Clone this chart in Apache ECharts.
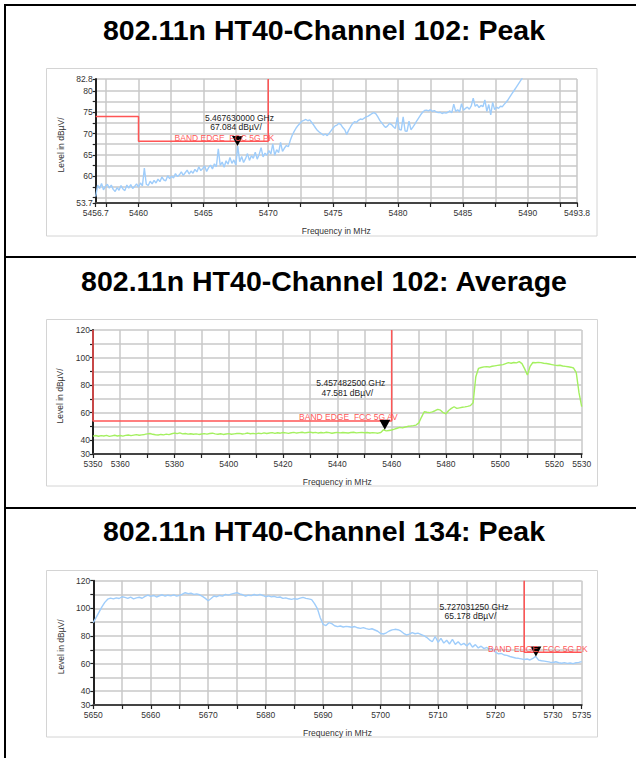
<!DOCTYPE html>
<html>
<head>
<meta charset="utf-8">
<script src="https://cdn.jsdelivr.net/npm/echarts@6/dist/echarts.min.js"></script>
<style>
html,body{margin:0;padding:0;background:#fff;}
#c{width:636px;height:758px;}
</style>
</head>
<body>
<div id="c"></div>
<script>
// ---- Channel 102, peak detector: sweep 5456.7 MHz, 0.15 MHz per point ----
const ch102PkStartMHz = 5456.7;
const ch102PkStepMHz = 0.15;
const ch102PkLevels = [
  55.2, 57.9, 57.1, 58.3, 56.8, 57.6, 58.1, 57.2, 57.9, 56.9,
  56.4, 57.3, 56.7, 57.8, 57.0, 56.6, 57.9, 57.2, 58.0, 57.1,
  57.6, 58.2, 57.4, 58.4, 57.7, 61.9, 58.1, 57.8, 58.8, 58.2,
  59.0, 58.4, 59.3, 58.7, 59.8, 59.1, 58.9, 60.1, 59.4, 60.0,
  59.6, 60.6, 59.9, 60.3, 61.0, 60.2, 60.8, 61.4, 60.5, 61.2,
  60.7, 61.6, 61.0, 62.2, 61.3, 61.8, 62.4, 61.1, 62.0, 62.6,
  61.7, 62.9, 62.2, 66.4, 62.5, 63.3, 62.1, 63.6, 62.8, 64.4,
  63.0, 63.8, 62.6, 67.08, 63.4, 64.6, 63.2, 64.1, 65.3, 63.7,
  64.8, 64.2, 65.6, 64.0, 65.1, 66.7, 64.5, 65.4, 64.9, 66.0,
  65.2, 67.6, 64.9, 66.2, 65.5, 67.9, 65.8, 66.6, 67.2, 66.9,
  68.4, 69.6, 70.5, 71.3, 71.9, 72.4, 72.9, 73.1, 73.3, 73.0,
  73.2, 72.6, 72.0, 71.3, 70.7, 70.3, 70.0, 69.6, 69.9, 69.5,
  70.1, 70.7, 71.3, 71.8, 72.0, 72.4, 72.1, 71.4, 70.9, 69.8,
  70.8, 71.6, 72.3, 72.8, 72.6, 73.1, 73.4, 73.3, 73.6, 73.9,
  74.1, 74.4, 74.7, 74.9, 74.6, 73.9, 73.1, 72.5, 71.9, 71.4,
  71.8, 72.4, 72.1, 71.6, 71.2, 73.8, 71.0, 70.8, 73.9, 70.6,
  70.5, 72.9, 70.9, 71.5, 72.2, 73.0, 73.7, 74.4, 75.0, 75.4,
  75.5, 75.3, 75.6, 75.2, 75.4, 75.1, 74.9, 75.0, 74.7, 74.9,
  74.8, 75.0, 75.3, 74.9, 76.9, 75.2, 75.6, 75.1, 77.0, 75.5,
  75.9, 76.2, 75.7, 76.5, 78.3, 76.4, 76.8, 76.1, 76.6, 76.3,
  77.9, 75.2, 76.8, 74.4, 77.3, 75.6, 76.2, 75.9, 76.4, 76.3,
  76.9, 77.4, 78.0, 78.7, 79.4, 80.1, 80.8, 81.5, 82.2, 82.9,
  83.6
];
const ch102PkLimit = [[5456.7, 74], [5460, 74], [5460, 68.2], [5470, 68.2], [5470, 82.8]];
const ch102PkMarker = [5467.63, 67.084];
const ch102PkXTicks = [5456.7, 5457.5, 5460, 5462.5, 5465, 5467.5, 5470, 5472.5, 5475, 5477.5,
  5480, 5482.5, 5485, 5487.5, 5490, 5492.5, 5493.8];
const ch102PkXLabels = [5456.7, 5460, 5465, 5470, 5475, 5480, 5485, 5490, 5493.8];
const ch102PkYTicks = [53.7, 55, 57.5, 60, 62.5, 65, 67.5, 70, 72.5, 75, 77.5, 80, 82.8];
const ch102PkYLabels = [53.7, 60, 65, 70, 75, 80, 82.8];

// ---- Channel 102, average detector: sweep 5350 MHz, 1 MHz per point ----
const ch102AvStartMHz = 5350;
const ch102AvStepMHz = 1;
const ch102AvLevels = [
  43.0, 43.4, 42.9, 43.3, 43.1, 43.5, 42.8, 43.2, 43.6, 43.1,
  43.4, 43.0, 43.5, 43.8, 43.3, 43.7, 44.1, 43.6, 43.9, 44.2,
  44.6, 44.9, 44.3, 44.0, 43.8, 44.2, 43.9, 44.4, 44.1, 44.7,
  45.2, 44.8, 45.3, 44.6, 44.9, 44.4, 44.7, 44.3, 44.6, 44.2,
  44.5, 44.8, 44.4, 44.9, 45.1, 44.6, 44.3, 44.7, 44.2, 44.5,
  44.8, 44.3, 44.6, 44.9, 45.0, 44.5, 44.8, 45.2, 44.7, 45.0,
  44.6, 45.1, 44.8, 45.3, 44.9, 45.2, 45.5, 45.0, 45.4, 45.1,
  45.6, 45.3, 45.0, 45.4, 45.7, 45.2, 45.5, 45.8, 45.3, 45.6,
  45.9, 45.4, 45.7, 45.2, 45.6, 45.3, 45.8, 45.5, 45.1, 45.4,
  45.7, 45.3, 45.6, 45.4, 45.2, 45.6, 45.8, 45.3, 45.5, 45.7,
  45.4, 45.6, 45.2, 45.5, 45.3, 45.1, 45.6, 47.6, 46.8, 47.1,
  47.4, 48.0, 48.7, 49.3, 49.0, 49.6, 50.1, 50.3, 50.6, 51.0,
  52.6, 56.8, 60.7, 60.3, 60.0, 60.6, 61.4, 62.4, 61.8, 60.0,
  59.2, 61.6, 63.1, 64.3, 63.1, 63.5, 63.9, 64.2, 64.6, 65.1,
  67.2, 86.1, 92.2, 92.8, 93.2, 93.4, 93.1, 93.7, 94.0, 94.3,
  94.6, 94.9, 95.6, 96.3, 95.9, 96.4, 96.1, 97.0, 95.6, 91.8,
  87.3, 93.6, 96.4, 96.2, 96.5, 96.3, 95.9, 95.7, 95.3, 94.9,
  94.5, 94.2, 94.4, 93.9, 93.6, 93.3, 93.0, 92.4, 89.0, 74.5,
  64.3
];
const ch102AvLimit = [[5350, 120], [5350, 54], [5460, 54], [5460, 120]];
const ch102AvMarker = [5457.4825, 47.581];
const ch102AvXTicks = [5350, 5360, 5370, 5380, 5390, 5400, 5410, 5420, 5430, 5440,
  5450, 5460, 5470, 5480, 5490, 5500, 5510, 5520, 5530];
const ch102AvXLabels = [5350, 5360, 5380, 5400, 5420, 5440, 5460, 5480, 5500, 5520, 5530];
const levelTicks = [30, 40, 50, 60, 70, 80, 90, 100, 110, 120];
const levelLabels = [30, 40, 60, 80, 100, 120];

// ---- Channel 134, peak detector: sweep 5650 MHz, 0.5 MHz per point ----
const ch134PkStartMHz = 5650;
const ch134PkStepMHz = 0.5;
const ch134PkLevels = [
  89.6, 93.4, 97.2, 101.0, 104.3, 106.6, 107.4, 106.8, 107.6, 107.1,
  108.4, 107.9, 107.2, 108.1, 106.9, 107.6, 108.0, 107.3, 108.6, 109.6,
  108.7, 109.3, 108.2, 109.1, 109.8, 108.9, 109.5, 109.0, 109.7, 108.8,
  109.4, 110.2, 111.3, 110.6, 110.9, 110.1, 110.5, 109.8, 108.6, 107.2,
  105.5, 107.1, 108.9, 108.4, 109.3, 108.8, 110.1, 109.6, 110.3, 110.8,
  111.3, 110.4, 109.8, 108.9, 109.5, 109.2, 110.0, 109.4, 110.1, 109.3,
  108.4, 109.0, 108.3, 108.7, 107.9, 108.2, 107.2, 107.6, 106.9, 106.5,
  107.0, 106.6, 107.4, 107.9, 107.2, 106.8, 106.3, 103.4, 99.8, 93.2,
  88.4, 87.5, 89.6, 88.9, 87.4, 86.7, 87.2, 86.5, 86.9, 86.7,
  86.3, 86.8, 85.9, 85.5, 86.0, 85.3, 84.8, 85.2, 84.3, 83.4,
  81.8, 81.4, 82.3, 83.6, 84.4, 84.8, 84.5, 83.6, 81.9, 80.7,
  81.3, 82.4, 81.6, 82.0, 81.2, 80.3, 79.0, 77.2, 75.8, 79.6,
  75.4, 78.3, 74.8, 76.9, 74.2, 77.5, 73.9, 75.8, 73.5, 74.6,
  72.8, 74.9, 71.9, 73.7, 71.3, 72.6, 70.8, 71.7, 69.9, 70.9,
  68.2, 67.1, 67.3, 66.2, 65.9, 65.1, 64.6, 64.0, 63.8, 63.4,
  62.9, 63.3, 62.6, 63.7, 65.18, 62.5, 62.0, 61.8, 61.4, 61.0,
  60.8, 61.3, 60.6, 60.2, 60.7, 60.1, 60.4, 60.0, 60.6, 60.9,
  61.4
];
const ch134PkLimit = [[5725, 120], [5725, 68.2], [5735, 68.2]];
const ch134PkMarker = [5727.03125, 65.178];
const ch134PkXTicks = [5650, 5655, 5660, 5665, 5670, 5675, 5680, 5685, 5690, 5695, 5700,
  5705, 5710, 5715, 5720, 5725, 5730, 5735];
const ch134PkXLabels = [5650, 5660, 5670, 5680, 5690, 5700, 5710, 5720, 5730, 5735];

const panelTitles = [
  '802.11n HT40-Channel 102: Peak',
  '802.11n HT40-Channel 102: Average',
  '802.11n HT40-Channel 134: Peak'
];
const limitNames = ['BAND EDGE  FCC 5G PK', 'BAND EDGE  FCC 5G AV', 'BAND EDGE  FCC 5G PK'];

// ---- page layout (pixels) ----
const FONT = '"Liberation Sans", Arial, Helvetica, sans-serif';
const panels = [
  {
    titleY: 30, box: [46.5, 68.5, 550.5, 167.5],
    grid: {left: 95.7, top: 79, width: 481.3, height: 124},
    x: {min: 5456.7, max: 5493.8, ticks: ch102PkXTicks, labels: ch102PkXLabels},
    y: {min: 53.7, max: 82.8, ticks: ch102PkYTicks, labels: ch102PkYLabels},
    trace: {start: ch102PkStartMHz, step: ch102PkStepMHz, levels: ch102PkLevels, color: '#9fcdfb'},
    limit: ch102PkLimit, limitLabelAt: [5470, 68.2],
    marker: ch102PkMarker, markerTextOffset: [2, -18.5]
  },
  {
    titleY: 281, box: [46.5, 319.5, 551, 166.5],
    grid: {left: 93, top: 330, width: 488.7, height: 124},
    x: {min: 5350, max: 5530, ticks: ch102AvXTicks, labels: ch102AvXLabels},
    y: {min: 30, max: 120, ticks: levelTicks, labels: levelLabels},
    trace: {start: ch102AvStartMHz, step: ch102AvStepMHz, levels: ch102AvLevels, color: '#a4f060'},
    limit: ch102AvLimit, limitLabelAt: [5460, 54],
    marker: ch102AvMarker, markerTextOffset: [-34, -37]
  },
  {
    titleY: 531, box: [46.5, 570.5, 551, 166.5],
    grid: {left: 93.3, top: 580.7, width: 488.4, height: 124.3},
    x: {min: 5650, max: 5735, ticks: ch134PkXTicks, labels: ch134PkXLabels},
    y: {min: 30, max: 120, ticks: levelTicks, labels: levelLabels},
    trace: {start: ch134PkStartMHz, step: ch134PkStepMHz, levels: ch134PkLevels, color: '#9fcdfb'},
    limit: ch134PkLimit, limitLabelAt: [5735, 68.2],
    marker: ch134PkMarker, markerTextOffset: [-62, -40]
  }
];

const smallText = {fontFamily: FONT, fontSize: 8.5, color: '#333'};
const plain = v => String(v);

const grids = [], xAxes = [], yAxes = [], series = [], graphics = [];

// outer frame and panel separators
graphics.push(
  {type: 'line', shape: {x1: 5, y1: 4, x2: 5, y2: 758}, style: {stroke: '#000', lineWidth: 2}},
  {type: 'line', shape: {x1: 4, y1: 5, x2: 636, y2: 5}, style: {stroke: '#000', lineWidth: 2}},
  {type: 'line', shape: {x1: 4, y1: 257, x2: 636, y2: 257}, style: {stroke: '#000', lineWidth: 2}},
  {type: 'line', shape: {x1: 4, y1: 508, x2: 636, y2: 508}, style: {stroke: '#000', lineWidth: 2}}
);

panels.forEach((p, i) => {
  graphics.push({
    type: 'text', x: 324, y: p.titleY,
    style: {text: panelTitles[i], font: 'bold 28.5px ' + FONT, fill: '#000', align: 'center', verticalAlign: 'middle'}
  });
  graphics.push({
    type: 'rect', shape: {x: p.box[0], y: p.box[1], width: p.box[2], height: p.box[3]},
    style: {fill: 'none', stroke: '#d4d4d4', lineWidth: 1}
  });

  grids.push(Object.assign({containLabel: false}, p.grid));

  xAxes.push({
    type: 'value', gridIndex: i, min: p.x.min, max: p.x.max,
    name: 'Frequency in MHz', nameLocation: 'middle', nameGap: 23,
    nameTextStyle: smallText,
    axisLine: {onZero: false, lineStyle: {color: '#444', width: 2}},
    axisTick: {customValues: p.x.ticks, length: 4, lineStyle: {color: '#222', width: 1.2}},
    axisLabel: Object.assign({customValues: p.x.labels, margin: 5, formatter: plain}, smallText),
    splitLine: {show: true, lineStyle: {color: '#c9c9c9', width: 1.5}}
  });

  yAxes.push({
    type: 'value', gridIndex: i, min: p.y.min, max: p.y.max,
    name: 'Level in dB\u00b5V/', nameLocation: 'middle', nameRotate: 90, nameGap: 26,
    nameTextStyle: Object.assign({padding: [0, 8, 0, 0]}, smallText),
    axisLine: {onZero: false, lineStyle: {color: '#222', width: 2}},
    axisTick: {customValues: p.y.ticks, length: 3, lineStyle: {color: '#222', width: 1.2}},
    axisLabel: Object.assign({customValues: p.y.labels, margin: 3, formatter: plain}, smallText),
    splitLine: {show: true, lineStyle: {color: '#c9c9c9', width: 1.5}}
  });

  const t = p.trace;
  const traceData = t.levels.map((v, k) => [+(t.start + k * t.step).toFixed(3), v]);

  // band-edge limit line with its caption
  series.push({
    type: 'line', xAxisIndex: i, yAxisIndex: i, data: p.limit,
    symbol: 'none', z: 3, silent: true, animation: false,
    lineStyle: {color: '#ff5555', width: 1.5},
    markPoint: {
      silent: true, animation: false, symbol: 'rect', symbolSize: 0,
      data: [{coord: p.limitLabelAt}],
      label: {
        show: true, position: 'inside', align: 'right', verticalAlign: 'middle', offset: [6, -3.5],
        lineHeight: 8.5,
        formatter: limitNames[i], fontFamily: FONT, fontSize: 8.5, color: '#ff5a5a'
      }
    }
  });

  // measured trace with the band-edge marker
  series.push({
    type: 'line', xAxisIndex: i, yAxisIndex: i, data: traceData,
    symbol: 'none', z: 2, silent: true, animation: false,
    lineStyle: {color: t.color, width: 1.4},
    markPoint: {
      silent: true, animation: false,
      symbol: 'triangle', symbolSize: [11, 10], symbolRotate: 180, symbolOffset: [0, '-50%'],
      itemStyle: {color: '#000'},
      data: [{coord: p.marker}],
      label: {
        show: true, position: 'inside', offset: p.markerTextOffset, align: 'center',
        lineHeight: 9.5, fontFamily: FONT, fontSize: 8.5, color: '#222',
        formatter: () => '{a|' + (p.marker[0] / 1000).toFixed(9) + ' GHz}\n{b|' + p.marker[1].toFixed(3) + ' dB\u00b5V/}',
        rich: {
          a: {fontFamily: FONT, fontSize: 8.5, color: '#222', lineHeight: 9.5},
          b: {fontFamily: FONT, fontSize: 8.5, color: '#222', lineHeight: 9.5, padding: [0, 7, 0, 0]}
        }
      }
    }
  });
});

const chart = echarts.init(document.getElementById('c'), null, {renderer: 'svg', width: 636, height: 758});
chart.setOption({
  animation: false,
  backgroundColor: '#fff',
  grid: grids,
  xAxis: xAxes,
  yAxis: yAxes,
  series: series,
  graphic: graphics
});
</script>
</body>
</html>
